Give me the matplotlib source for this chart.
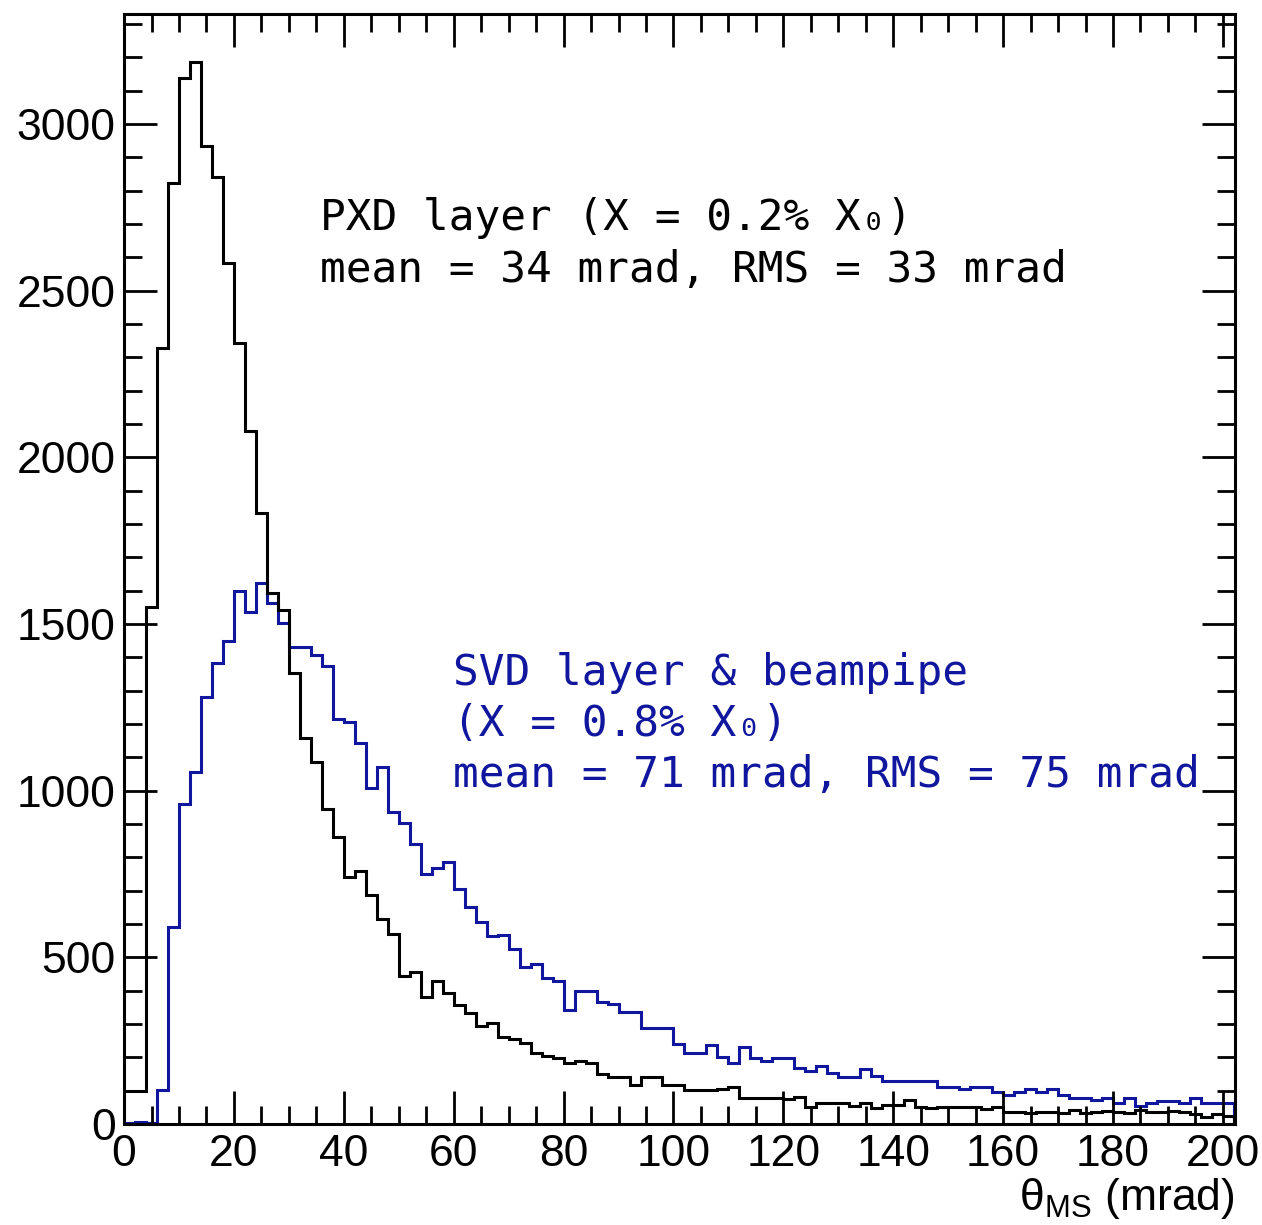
import numpy as np
import matplotlib
matplotlib.use("Agg")
import matplotlib.pyplot as plt
from matplotlib.ticker import MultipleLocator

# bin edges in mrad (2 mrad bins, 0 .. 202)
edges = np.arange(0, 204, 2)

# PXD layer histogram (counts per bin)
pxd = [100, 100, 1551, 2328, 2823, 3138, 3186, 2934, 2841, 2583,
       2343, 2079, 1833, 1593, 1542, 1353, 1158, 1086, 945, 862,
       741, 759, 687, 615, 570, 444, 456, 381, 429, 393,
       357, 333, 294, 303, 261, 255, 243, 213, 204, 198,
       183, 189, 183, 150, 141, 141, 117, 141, 141, 117,
       117, 102, 102, 102, 104, 110, 77, 77, 77, 77,
       74, 80, 52, 62, 62, 62, 55, 64, 47, 57,
       57, 72, 50, 48, 52, 52, 52, 52, 45, 52,
       37, 37, 32, 37, 37, 32, 42, 32, 37, 40,
       37, 34, 42, 37, 37, 40, 35, 30, 22, 30,
       25]

# SVD layer & beampipe histogram
svd = [3, 5, 3, 102, 591, 960, 1056, 1281, 1383, 1449,
       1599, 1536, 1623, 1563, 1503, 1431, 1431, 1407, 1374, 1215,
       1206, 1143, 1008, 1071, 936, 903, 840, 750, 768, 785,
       706, 651, 606, 564, 567, 525, 471, 480, 438, 429,
       342, 399, 399, 366, 360, 336, 336, 288, 288, 288,
       240, 213, 213, 237, 200, 184, 232, 199, 190, 199,
       199, 167, 159, 174, 152, 142, 142, 165, 144, 129,
       129, 129, 129, 129, 112, 112, 104, 112, 110, 97,
       87, 95, 104, 97, 104, 87, 79, 79, 72, 79,
       62, 77, 54, 62, 70, 70, 64, 77, 62, 62,
       62]

pxd_text = ["PXD layer (X = 0.2% X\u2080)", "mean = 34 mrad, RMS = 33 mrad"]
svd_text = ["SVD layer & beampipe", "(X = 0.8% X\u2080)", "mean = 71 mrad, RMS = 75 mrad"]

blue = "#10169e"

plt.rcParams['font.family'] = ['Liberation Sans', 'DejaVu Sans']
plt.rcParams['mathtext.fontset'] = 'custom'
plt.rcParams['mathtext.rm'] = 'Liberation Sans'
plt.rcParams['mathtext.it'] = 'Liberation Sans:italic'

fig = plt.figure(figsize=(12.62, 12.25), dpi=100)
ax = fig.add_axes([0.0983, 0.0824, 0.9786 - 0.0983, 0.9886 - 0.0824])

ax.stairs(svd, edges, color=blue, lw=2.2)
ax.stairs(pxd, edges, color="black", lw=2.2)

ax.set_xlim(0, 202.2)
ax.set_ylim(0, 3330)

ax.xaxis.set_major_locator(MultipleLocator(20))
ax.xaxis.set_minor_locator(MultipleLocator(5))
ax.yaxis.set_major_locator(MultipleLocator(500))
ax.yaxis.set_minor_locator(MultipleLocator(100))

ax.tick_params(which="both", direction="in", top=True, right=True, width=2.0)
ax.tick_params(which="major", length=24, labelsize=32)
ax.tick_params(which="minor", length=13)
ax.tick_params(axis="x", pad=7)
ax.tick_params(axis="y", pad=6)
for s in ax.spines.values():
    s.set_linewidth(2.2)

ax.set_xlabel(r"$\mathrm{\theta_{MS}}$ (mrad)", fontsize=32, loc="right", labelpad=1)

mono = ["DejaVu Sans Mono", "DejaVu Sans"]
for k, line in enumerate(pxd_text):
    ax.text(0.1762, 0.8054 - k * 0.0468, line, transform=ax.transAxes,
            family=mono, fontsize=30.8, color="black")
for k, line in enumerate(svd_text):
    ax.text(0.2964, 0.3955 - k * 0.0460, line, transform=ax.transAxes,
            family=mono, fontsize=30.8, color=blue)

fig.savefig("out.png", dpi=100)
